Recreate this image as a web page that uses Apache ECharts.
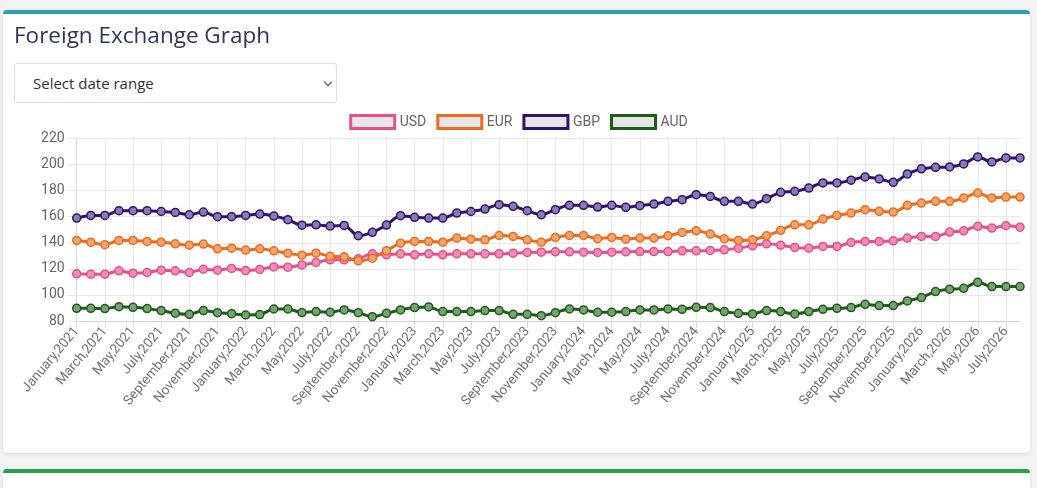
<!DOCTYPE html>
<html>
<head>
<meta charset="utf-8">
<script src="https://cdn.jsdelivr.net/npm/echarts@6/dist/echarts.min.js"></script>
<style>
  html, body { margin:0; padding:0; }
  body { width:1037px; height:488px; overflow:hidden; background:#f3f3f3; position:relative; font-family:"Open Sans", sans-serif; }
  .card { position:absolute; left:3px; top:10px; width:1027px; height:443px; background:#fff; border-top:4px solid #2d9fb0; border-radius:4px; box-shadow:0 1px 4px rgba(0,0,0,0.12); box-sizing:border-box; }
  .card2 { position:absolute; left:3px; top:469px; width:1027px; height:40px; background:#fff; border-top:4px solid #27a24b; border-radius:4px; box-shadow:0 1px 4px rgba(0,0,0,0.12); box-sizing:border-box; }
  .title { position:absolute; left:14px; top:23px; font-size:22.5px; line-height:24px; color:#2f3556; z-index:2; white-space:nowrap; }
  .select { position:absolute; left:14px; top:63px; width:323px; height:40px; border:1px solid #dedede; border-radius:3px; box-sizing:border-box; background:#fff; z-index:2; }
  .select span { position:absolute; left:18px; top:9px; font-size:15px; line-height:20px; color:#333; }
  .select i { position:absolute; left:310px; top:15px; width:5px; height:5px; border-right:1px solid #444; border-bottom:1px solid #444; transform:rotate(45deg); }
  #chart { position:absolute; left:0; top:0; width:1037px; height:488px; z-index:1; }
</style>
</head>
<body>
<div class="card"></div>
<div class="card2"></div>
<div class="title">Foreign Exchange Graph</div>
<div class="select"><span>Select date range</span><i></i></div>
<div id="chart"></div>
<script>
const categories = [
  "January,2021","February,2021","March,2021","April,2021","May,2021","June,2021","July,2021","August,2021","September,2021","October,2021","November,2021","December,2021",
  "January,2022","February,2022","March,2022","April,2022","May,2022","June,2022","July,2022","August,2022","September,2022","October,2022","November,2022","December,2022",
  "January,2023","February,2023","March,2023","April,2023","May,2023","June,2023","July,2023","August,2023","September,2023","October,2023","November,2023","December,2023",
  "January,2024","February,2024","March,2024","April,2024","May,2024","June,2024","July,2024","August,2024","September,2024","October,2024","November,2024","December,2024",
  "January,2025","February,2025","March,2025","April,2025","May,2025","June,2025","July,2025","August,2025","September,2025","October,2025","November,2025","December,2025",
  "January,2026","February,2026","March,2026","April,2026","May,2026","June,2026","July,2026","August,2026"
];
const usd = [116.2,115.9,115.9,118.5,116.7,117.2,119,118.5,117.2,119.7,119,120.3,118.7,119.5,121.5,121.3,123,124.9,126.9,126.9,127.7,131.5,130.8,131.5,130.8,131.5,130.8,131.5,131.5,131.5,131.5,132,132.6,132.8,133.1,133.1,132.8,132.6,132.8,133.1,133.3,133.3,133.3,133.8,133.8,134.1,134.6,135.9,137.7,139.2,138.1,136.4,135.9,137.2,137.2,140.3,141,141,141.5,143.6,144.9,144.9,148.2,149.2,152.6,151.3,153.1,152];
const eur = [141.8,140.5,138.5,141.8,141.8,141,140.5,139.2,138.2,139,135.4,135.9,134.4,135.4,133.8,132,130.5,132,129.7,129.2,126.2,128.2,133.8,139.7,141,141,140.5,143.6,142.8,142.3,145.6,144.9,142.3,140.5,144.1,145.6,145.6,143.1,144.1,142.8,143.6,143.6,145.4,147.9,149.2,146.7,143.1,141.8,142.3,145.4,149.6,153.8,153.8,158.2,161,162.8,165.4,164.1,163.6,168.7,170.5,171.8,171.8,174.4,178.2,174.4,175.1,175.1];
const gbp = [159,161,161,164.6,164.6,164.6,164,163.3,161.5,163.6,160,160,161,162,160.5,157.7,153.5,153.8,152.8,153.3,145.4,148,153.6,160.8,159.5,159,159,162.8,164,165.9,169.2,168,164.6,161.5,165.4,168.7,168.7,167.4,168.7,167.2,168.5,169.7,171.8,173.1,176.9,175.6,171.8,171.8,169.7,173.8,178.7,179.5,182,185.9,185.9,188,190.5,189,186.4,192.8,196.7,197.9,198.2,200.5,205.9,202,205.1,205.1];
const aud = [89.7,89.7,89.5,91,90.5,89.5,88,86,85.1,88,86.4,85.6,84.6,84.9,89.2,89.2,86.5,87.2,86.7,88.5,86.4,83.3,85.9,88.5,90.3,90.8,87.2,87.2,87.2,88,88,85.1,85.1,84.1,86.4,89.2,88.5,86.7,86.7,87.2,88.5,88.5,89.2,89,90.5,90.3,87.2,85.9,85.4,88,87.2,85.4,87.2,89,89.7,90.3,92.8,91.8,91.8,95.4,98,102.6,104.4,105.1,109.7,106.4,106.4,106.4];
const seriesNames = ["USD","EUR","GBP","AUD"];
const yTicks = { min: 80, max: 220, step: 20 };

const colors = { USD:"#e4508a", EUR:"#ea6c1c", GBP:"#2e1170", AUD:"#1d5c19" };
const fills  = { USD:"#f08fb6", EUR:"#f4a46e", GBP:"#8a7cb3", AUD:"#78a273" };
const values = { USD: usd, EUR: eur, GBP: gbp, AUD: aud };

const chart = echarts.init(document.getElementById('chart'), null, { renderer: 'canvas' });
chart.setOption({
  animation: false,
  backgroundColor: 'transparent',
  textStyle: { fontFamily: 'Roboto' },
  legend: {
    top: 114, left: 'center', padding: 0,
    icon: 'rect', itemWidth: 44, itemHeight: 13, itemGap: 10,
    textStyle: { color: '#666', fontSize: 14, fontFamily: 'Roboto' },
    data: seriesNames.map(n => ({ name: n, itemStyle: { color: '#e6e6e6', borderColor: colors[n], borderWidth: 3 } }))
  },
  grid: { left: 76.7, right: 17, top: 138.5, bottom: 167, containLabel: false, outerBoundsMode: 'none' },
  xAxis: {
    type: 'category', data: categories, boundaryGap: false,
    axisLine: { show: true, lineStyle: { color: '#d0d0d0' } },
    axisTick: { show: true, interval: 1, length: 7, lineStyle: { color: '#dcdcdc' } },
    axisLabel: { interval: 1, rotate: 50, fontSize: 13.5, color: '#727272', margin: 8, fontFamily: 'Roboto' },
    splitLine: { show: true, interval: 1, lineStyle: { color: '#e8e8e8' } }
  },
  yAxis: {
    type: 'value', min: yTicks.min, max: yTicks.max, interval: yTicks.step,
    axisLine: { show: true, lineStyle: { color: '#d8d8d8' } },
    axisTick: { show: true, length: 9, lineStyle: { color: '#e8e8e8' } },
    axisLabel: { fontSize: 14, color: '#666', margin: 12, fontFamily: 'Roboto' },
    splitLine: { show: true, lineStyle: { color: '#e8e8e8' } }
  },
  series: seriesNames.map(n => ({
    name: n, type: 'line', data: values[n], smooth: 0.3,
    symbol: 'circle', symbolSize: 8, showSymbol: true,
    lineStyle: { color: colors[n], width: 3 },
    itemStyle: { color: fills[n], borderColor: colors[n], borderWidth: 1.5 }
  }))
});
</script>
</body>
</html>
